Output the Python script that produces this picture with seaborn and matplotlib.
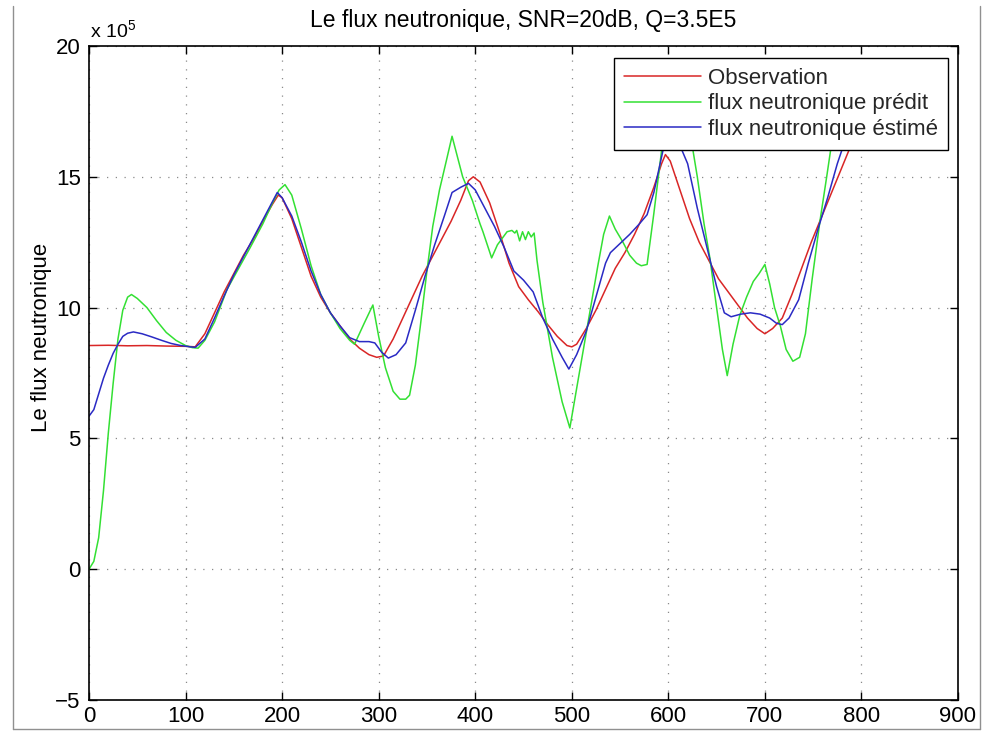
import matplotlib
matplotlib.use("Agg")
import matplotlib.pyplot as plt
from matplotlib.lines import Line2D
import numpy as np
import pandas as pd
import seaborn as sns

# Flux values are in units of 1e5
obs_t = [0, 20, 40, 60, 80, 100, 110, 120, 130, 140, 150, 160, 170, 180, 190, 196,
         200, 210, 220, 230, 240, 250, 260, 270, 280, 290, 298, 305, 315, 325, 335,
         345, 355, 365, 375, 385, 393, 398, 405, 415, 425, 435, 445, 455, 465, 475,
         485, 495, 500, 505, 515, 525, 535, 545, 555, 565, 575, 585, 593, 597, 602,
         612, 622, 632, 642, 652, 662, 672, 682, 692, 700, 708, 718, 728, 738, 748,
         758, 768, 778, 788, 800]
obs_v = [8.55, 8.56, 8.54, 8.55, 8.53, 8.52, 8.50, 9.0, 9.8, 10.6, 11.3, 12.0, 12.6,
         13.3, 13.95, 14.3, 14.2, 13.4, 12.3, 11.2, 10.4, 9.8, 9.3, 8.8, 8.45, 8.2,
         8.1, 8.15, 8.8, 9.6, 10.4, 11.2, 11.9, 12.6, 13.3, 14.1, 14.85, 15.0, 14.8,
         14.0, 12.9, 11.7, 10.8, 10.3, 9.85, 9.35, 8.9, 8.55, 8.5, 8.6, 9.2, 9.9,
         10.7, 11.5, 12.1, 12.8, 13.6, 14.6, 15.5, 15.85, 15.6, 14.5, 13.4, 12.5,
         11.8, 11.1, 10.6, 10.1, 9.6, 9.2, 9.0, 9.2, 9.6, 10.5, 11.5, 12.5, 13.4,
         14.3, 15.2, 16.1, 17.0]

pred_t = [0, 5, 10, 15, 20, 25, 30, 35, 40, 44, 50, 60, 70, 80, 90, 100, 107, 113,
          120, 130, 143, 155, 167, 180, 190, 197, 203, 210, 220, 230, 240, 250, 260,
          270, 275, 285, 294, 300, 307, 315, 322, 328, 332, 338, 343, 350, 356, 363,
          370, 376, 387, 397, 405, 408, 417, 423, 433, 438, 441, 443, 446, 449, 452,
          455, 458, 461, 464, 470, 480, 490, 498, 505, 516, 527, 533, 539, 545, 553,
          560, 567, 572, 578, 585, 593, 600, 608, 615, 622, 630, 637, 643, 650, 656,
          661, 667, 674, 681, 688, 694, 700, 705, 710, 716, 722, 729, 736, 742, 749,
          757, 764, 770, 780, 790, 800]
pred_v = [0.0, 0.3, 1.2, 3.0, 5.2, 7.1, 8.8, 9.9, 10.4, 10.5, 10.35, 10.0, 9.5,
          9.05, 8.75, 8.55, 8.47, 8.45, 8.75, 9.45, 10.7, 11.5, 12.3, 13.2, 14.0,
          14.5, 14.7, 14.3, 13.0, 11.6, 10.5, 9.8, 9.2, 8.75, 8.6, 9.4, 10.1, 8.9,
          7.7, 6.8, 6.5, 6.5, 6.65, 7.8, 9.25, 11.4, 13.1, 14.5, 15.6, 16.55, 15.0,
          14.1, 13.2, 12.9, 11.9, 12.4, 12.9, 12.95, 12.85, 12.95, 12.55, 12.9, 12.6,
          12.9, 12.7, 12.85, 11.8, 10.2, 8.1, 6.4, 5.4, 6.9, 9.25, 11.6, 12.8, 13.5,
          13.0, 12.5, 12.0, 11.7, 11.6, 11.65, 13.6, 16.0, 17.5, 18.0, 17.8, 16.8,
          15.0, 13.2, 11.9, 10.0, 8.4, 7.4, 8.6, 9.7, 10.4, 11.0, 11.3, 11.65, 10.9,
          10.0, 9.3, 8.4, 7.95, 8.1, 9.0, 11.1, 13.3, 15.0, 16.5, 18.0, 19.0, 19.5]

est_t = [0, 5, 10, 15, 20, 25, 30, 35, 40, 46, 55, 65, 75, 85, 95, 105, 110, 120,
         130, 140, 150, 160, 170, 180, 190, 195, 200, 210, 220, 230, 240, 250, 260,
         270, 280, 290, 296, 303, 310, 318, 328, 338, 348, 358, 368, 376, 385, 393,
         400, 410, 420, 430, 440, 450, 460, 470, 480, 490, 497, 505, 515, 525, 535,
         540, 550, 560, 570, 578, 585, 595, 600, 606, 612, 620, 630, 640, 650, 658,
         665, 675, 685, 695, 705, 712, 718, 725, 735, 745, 755, 765, 775, 785, 800]
est_v = [5.85, 6.1, 6.7, 7.3, 7.8, 8.25, 8.6, 8.9, 9.02, 9.07, 9.0, 8.88, 8.75,
         8.63, 8.55, 8.5, 8.48, 8.8, 9.6, 10.45, 11.25, 11.95, 12.65, 13.35, 14.05,
         14.4, 14.2, 13.5, 12.5, 11.4, 10.5, 9.8, 9.3, 8.85, 8.7, 8.7, 8.65, 8.3,
         8.07, 8.2, 8.65, 9.9, 11.2, 12.4, 13.5, 14.4, 14.6, 14.75, 14.5, 13.8, 13.1,
         12.3, 11.4, 11.05, 10.6, 9.6, 8.8, 8.1, 7.65, 8.2, 9.1, 10.4, 11.7, 12.1,
         12.45, 12.8, 13.2, 13.55, 14.4, 16.1, 16.4, 16.6, 16.2, 15.5, 13.8, 12.3,
         10.8, 9.8, 9.65, 9.75, 9.8, 9.75, 9.6, 9.4, 9.35, 9.6, 10.3, 11.7, 13.0,
         14.2, 15.5, 16.6, 18.0]

x_ticks = [0, 100, 200, 300, 400, 500, 600, 700, 800, 900]
y_ticks = [-5, 0, 5, 10, 15, 20]

series = [
    ("Observation", obs_t, obs_v, "#d92626"),
    ("flux neutronique prédit", pred_t, pred_v, "#33e033"),
    ("flux neutronique éstimé", est_t, est_v, "#2a2ac4"),
]

sns.set_theme(style="white")
plt.rcParams["font.family"] = ["Liberation Sans", "DejaVu Sans"]
plt.rcParams["mathtext.default"] = "regular"

W, H = 987, 731
fig = plt.figure(figsize=(W / 100, H / 100), dpi=100)
fig.patch.set_facecolor("white")
ax = fig.add_axes([89 / W, 1 - 700 / H, (958 - 89) / W, (700 - 46) / H])

for name, t, v, col in series:
    df = pd.DataFrame({"t": t, "v": v})
    sns.lineplot(data=df, x="t", y="v", color=col, linewidth=1.1,
                 label=name, ax=ax, sort=False, estimator=None)

ax.set_xlim(0, 900)
ax.set_ylim(-5, 20)
ax.set_xticks(x_ticks)
ax.set_yticks(y_ticks)
ax.set_xticklabels([str(v) for v in x_ticks])
ax.set_yticklabels(["\u22125" if v < 0 else str(v) for v in y_ticks])
ax.set_xlabel("")
ax.set_ylabel("")

ax.grid(True, color="#8a8a8a", linestyle=(0, (1, 6)), linewidth=0.9)
for s in ax.spines.values():
    s.set_visible(True)
    s.set_color("black")
    s.set_linewidth(1.2)
ax.tick_params(axis="both", direction="in", length=6, width=1.0, color="black",
               labelsize=16, labelcolor="black", top=True, right=True,
               bottom=True, left=True)
ax.tick_params(axis="x", pad=4)
ax.tick_params(axis="y", pad=6)

ax.set_title("Le flux neutronique, SNR=20dB, Q=3.5E5", fontsize=16.5, pad=14,
             color="black")
fig.text(42 / W, 1 - 337 / H, "Le flux neutronique", rotation=90, fontsize=16,
         ha="center", va="center", color="black")
fig.text(90 / W, 1 - 37 / H, r"x 10$^5$", fontsize=14, ha="left",
         va="baseline", color="black")

leg = ax.legend(loc="upper right", bbox_to_anchor=((948 - 89) / 869, (700 - 58) / 654),
                fontsize=16, frameon=True, fancybox=False, shadow=False,
                framealpha=1, edgecolor="black", handlelength=3.5,
                handletextpad=0.3, labelspacing=0.2, borderpad=0.45,
                borderaxespad=0.0)
leg.get_frame().set_linewidth(1.0)

# light border of the figure window
for xs, ys in [((13 / W, 13 / W), (1 - 729 / H, 1 - 6 / H)),
               ((980 / W, 980 / W), (1 - 729 / H, 1 - 6 / H)),
               ((13 / W, 980 / W), (1 - 729 / H, 1 - 729 / H))]:
    fig.add_artist(Line2D(xs, ys, transform=fig.transFigure, color="#909090",
                          linewidth=1.0))

fig.savefig("out.png", dpi=100, facecolor="white")
